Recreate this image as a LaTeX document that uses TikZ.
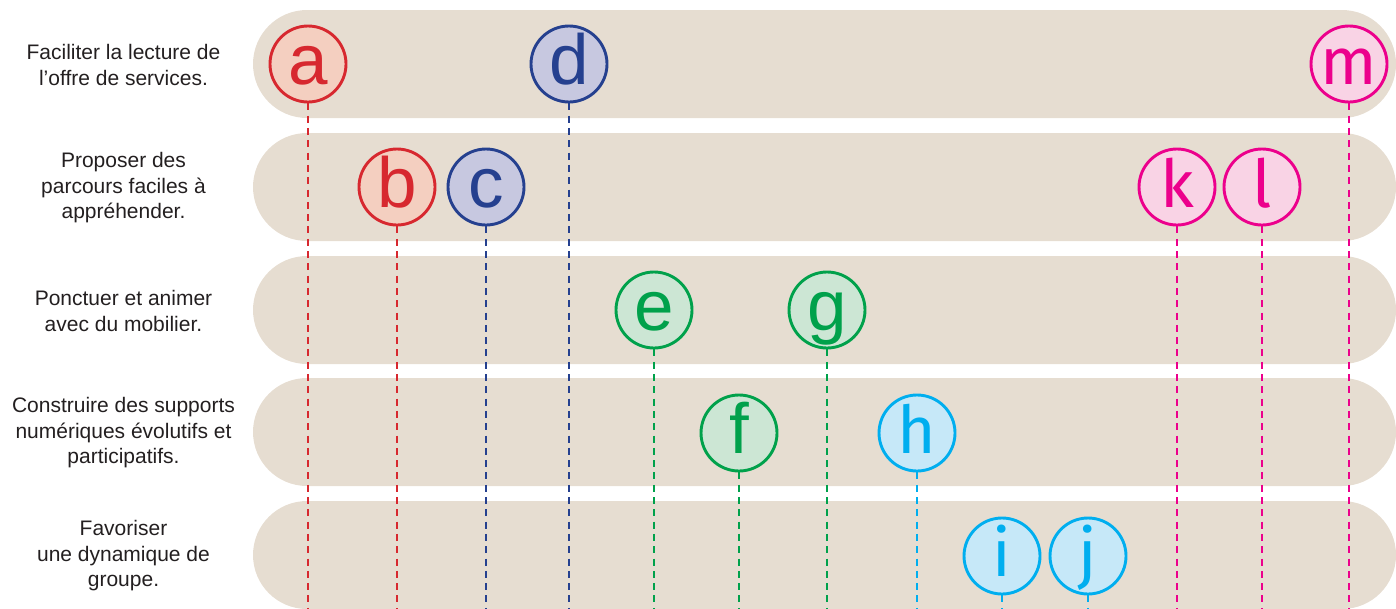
\documentclass[tikz,border=0pt]{standalone}
\usepackage{fontspec}
\setmainfont{Liberation Sans}
\newfontfamily\altf{Fira Sans}
\definecolor{bandc}{HTML}{E6DDD1}
\definecolor{txtc}{HTML}{231F20}
\definecolor{redS}{HTML}{D7282F}\definecolor{redF}{HTML}{F4CFC0}
\definecolor{bluS}{HTML}{25408F}\definecolor{bluF}{HTML}{C7C8E0}
\definecolor{grnS}{HTML}{00A14B}\definecolor{grnF}{HTML}{CCE6D4}
\definecolor{cyaS}{HTML}{00AEEF}\definecolor{cyaF}{HTML}{C6E8F8}
\definecolor{magS}{HTML}{EC008C}\definecolor{magF}{HTML}{F9D3E5}
\begin{document}
\begin{tikzpicture}[x=1pt,y=-1pt,
  band/.style={fill=bandc,draw=none,rounded corners=54pt},
  lab/.style={align=center,text=txtc,font=\fontsize{21}{25.5}\selectfont},
  dot/.style={circle,line width=2.9pt,minimum size=76pt,inner sep=0pt,
    text height=40pt,text depth=0pt,font=\fontsize{71}{71}\selectfont},
  alt/.style={font=\altf\fontsize{66}{66}\selectfont},
  rr/.style={dot,draw=redS,fill=redF,text=redS},
  bb/.style={dot,draw=bluS,fill=bluF,text=bluS},
  gg/.style={dot,draw=grnS,fill=grnF,text=grnS},
  cc/.style={dot,alt,draw=cyaS,fill=cyaF,text=cyaS},
  mm/.style={dot,alt,draw=magS,fill=magF,text=magS},
  dl/.style={line width=2.5pt,dash pattern=on 7pt off 5.3pt}]
\useasboundingbox (0,0) rectangle (1396,608);
\clip (0,0) rectangle (1396,608);
\fill[band] (253,10) rectangle (1396,118);
\fill[band] (253,133) rectangle (1396,241);
\fill[band] (253,256) rectangle (1396,364);
\fill[band] (253,378) rectangle (1396,486);
\fill[band] (253,501) rectangle (1396,609);
\node[lab] (t1) at (123.5,65) {Faciliter la lecture de\\l’offre de services.};
\node[lab] (t2) at (123.5,188) {Proposer des\\parcours faciles à\\appréhender.};
\node[lab] (t3) at (123.5,311) {Ponctuer et animer\\avec du mobilier.};
\node[lab] (t4) at (123.5,433) {Construire des supports\\numériques évolutifs et\\participatifs.};
\node[lab] (t5) at (123.5,556) {Favoriser\\une dynamique de\\groupe.};
\coordinate (bot) at (0,610);
\node[rr] (a) at (308,64) {a};
\node[bb] (d) at (569,64) {d};
\node[mm] (m) at (1349,64) {m};
\node[rr] (b) at (397,187) {b};
\node[bb] (c) at (486,187) {c};
\node[mm] (k) at (1177,187) {k};
\node[mm] (l) at (1262,187) {l};
\node[gg] (e) at (654,310) {e};
\node[gg] (g) at (827,310) {g};
\node[gg] (f) at (739,433) {f};
\node[cc] (h) at (917,433) {h};
\node[cc] (i) at (1002,556) {i};
\node[cc] (j) at (1088,556) {j};
\foreach \n/\c in {a/redS,b/redS,c/bluS,d/bluS,e/grnS,f/grnS,g/grnS,h/cyaS,i/cyaS,j/cyaS,k/magS,l/magS,m/magS}
  \draw[dl,draw=\c] (\n.south) -- (\n.south |- bot);
\end{tikzpicture}
\end{document}
